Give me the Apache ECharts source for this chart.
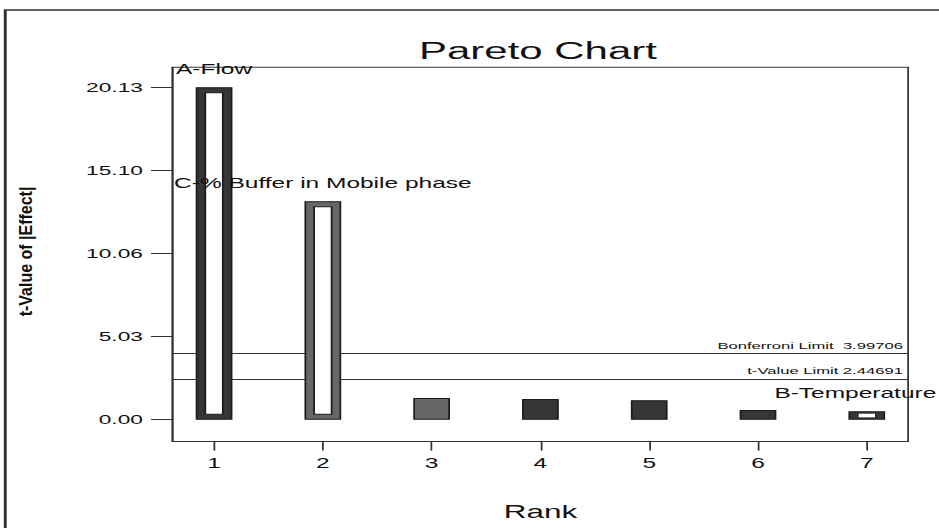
<!DOCTYPE html>
<html>
<head>
<meta charset="utf-8">
<title>Pareto Chart</title>
<script src="https://cdn.jsdelivr.net/npm/echarts@6/dist/echarts.min.js"></script>
<style>
  html, body { margin: 0; padding: 0; background: #fff; overflow: hidden; }
  #main { height: 528px; transform-origin: 0 0; }
</style>
</head>
<body>
<div id="main"></div>
<script>
// Ranked effects (t-value of |effect|)
const ranks = [1, 2, 3, 4, 5, 6, 7];
const tValues = [20.13, 13.21, 1.27, 1.21, 1.13, 0.54, 0.46];
const termLabels = ['A-Flow', 'C-% Buffer in Mobile phase', '', '', '', '', 'B-Temperature'];
const yTickLabels = ['0.00', '5.03', '10.06', '15.10', '20.13'];
const bonferroniLimit = 3.99706;
const tValueLimit = 2.44691;

// The whole figure is laid out narrow and widened horizontally.
const STRETCH = 1.75;
const W = 939 / STRETCH;
const FONT = '"Liberation Sans", Arial, Helvetica, sans-serif';
const TERM_FONT = '14px ' + FONT;

// Per-bar fill and whether the bar is drawn as an outlined (hollow) column
const barLook = [
  { fill: '#363636', hollow: true },
  { fill: '#676767', hollow: true },
  { fill: '#676767', hollow: false },
  { fill: '#363636', hollow: false },
  { fill: '#363636', hollow: false },
  { fill: '#363636', hollow: false },
  { fill: '#363636', hollow: true }
];
const BAR_W = 20;

// text width helper, used to keep term labels inside the figure
const measureCtx = document.createElement('canvas').getContext('2d');
function textWidth(text, font) {
  measureCtx.font = font;
  return measureCtx.measureText(text).width;
}

const dom = document.getElementById('main');
dom.style.width = W + 'px';
dom.style.transform = 'scaleX(' + STRETCH + ')';

const chart = echarts.init(dom, null, { renderer: 'svg' });

const yTickValues = yTickLabels.map(parseFloat);

const option = {
  animation: false,
  backgroundColor: '#fff',
  title: {
    text: 'Pareto Chart',
    left: 307.4,
    top: 39,
    textAlign: 'center',
    padding: 0,
    textStyle: { fontFamily: FONT, fontSize: 24, fontWeight: 'normal', color: '#111' }
  },
  graphic: [
    {
      type: 'rect',
      shape: { x: 3, y: 10, width: W + 40, height: 600 },
      style: { fill: 'none', stroke: '#333', lineWidth: 1.7 },
      silent: true
    },
    {
      type: 'text',
      x: 14.9,
      y: 251.5,
      rotation: Math.PI / 2,
      scaleX: 1.6,
      style: {
        text: 't-Value of |Effect|',
        font: 'bold 10px ' + FONT,
        fill: '#111',
        align: 'center',
        verticalAlign: 'middle'
      },
      silent: true
    }
  ],
  grid: {
    left: 98.7,
    right: W - 518.5,
    top: 67.3,
    bottom: 86.4,
    show: true,
    borderColor: '#333',
    borderWidth: 1,
    backgroundColor: 'transparent'
  },
  xAxis: {
    type: 'value',
    min: 0.62,
    max: 7.38,
    name: 'Rank',
    nameLocation: 'middle',
    nameGap: 61,
    nameTextStyle: { fontFamily: FONT, fontSize: 18, color: '#111' },
    axisLine: { show: true, onZero: false, lineStyle: { color: '#333', width: 1 } },
    axisTick: { show: true, length: 9, customValues: ranks, lineStyle: { color: '#333', width: 1 } },
    axisLabel: {
      customValues: ranks,
      margin: 14,
      fontFamily: FONT,
      fontSize: 14,
      color: '#111'
    },
    splitLine: { show: false }
  },
  yAxis: {
    type: 'value',
    min: -1.35,
    max: 21.37,
    axisLine: { show: true, onZero: false, lineStyle: { color: '#333', width: 1 } },
    axisTick: { show: true, length: 12.4, customValues: yTickValues, lineStyle: { color: '#333', width: 1 } },
    axisLabel: {
      customValues: yTickValues,
      margin: 17,
      fontFamily: FONT,
      fontSize: 13,
      color: '#111',
      padding: [0, 0, 8, 0],
      formatter: function (v) {
        const i = yTickValues.indexOf(v);
        return i >= 0 ? yTickLabels[i] : '';
      }
    },
    splitLine: { show: false }
  },
  series: [
    {
      // reference limits
      type: 'line',
      data: [],
      z: 1,
      markLine: {
        silent: true,
        symbol: 'none',
        animation: false,
        lineStyle: { color: '#333', width: 1.2, type: 'solid' },
        label: {
          position: 'insideEndTop',
          distance: 3,
          fontFamily: FONT,
          fontSize: 9.5,
          color: '#111'
        },
        emphasis: { disabled: true },
        data: [
          { yAxis: bonferroniLimit, label: { formatter: 'Bonferroni Limit  ' + bonferroniLimit } },
          { yAxis: tValueLimit, label: { formatter: 't-Value Limit ' + tValueLimit } }
        ]
      }
    },
    {
      type: 'custom',
      z: 5,
      clip: false,
      silent: true,
      data: ranks.map(function (r, i) { return [r, tValues[i]]; }),
      renderItem: function (params, api) {
        const i = params.dataIndex;
        const top = api.coord([api.value(0), api.value(1)]);
        const base = api.coord([api.value(0), 0]);
        const h = base[1] - top[1];
        const left = top[0] - BAR_W / 2;
        const look = barLook[i];
        const children = [{
          type: 'rect',
          shape: { x: left, y: top[1], width: BAR_W, height: h },
          style: { fill: look.fill, stroke: '#1c1c1c', lineWidth: 1 }
        }];
        if (look.hollow) {
          const insetX = 5;
          const insetY = Math.min(5, h * 0.2);
          children.push({
            type: 'rect',
            shape: { x: left + insetX, y: top[1] + insetY, width: BAR_W - 2 * insetX, height: h - 2 * insetY },
            style: { fill: '#fff', stroke: '#1c1c1c', lineWidth: h < 20 ? 0.6 : 1 }
          });
        }
        if (termLabels[i]) {
          // centred over the bar, nudged left if it would run off the figure
          const half = textWidth(termLabels[i], TERM_FONT) / 2;
          const cx = Math.min(top[0], W - 1.5 - half);
          children.push({
            type: 'text',
            style: {
              text: termLabels[i],
              x: cx,
              y: top[1] - 12,
              align: 'center',
              verticalAlign: 'bottom',
              font: TERM_FONT,
              fill: '#111'
            }
          });
        }
        return { type: 'group', children: children };
      }
    }
  ]
};

chart.setOption(option);
</script>
</body>
</html>
